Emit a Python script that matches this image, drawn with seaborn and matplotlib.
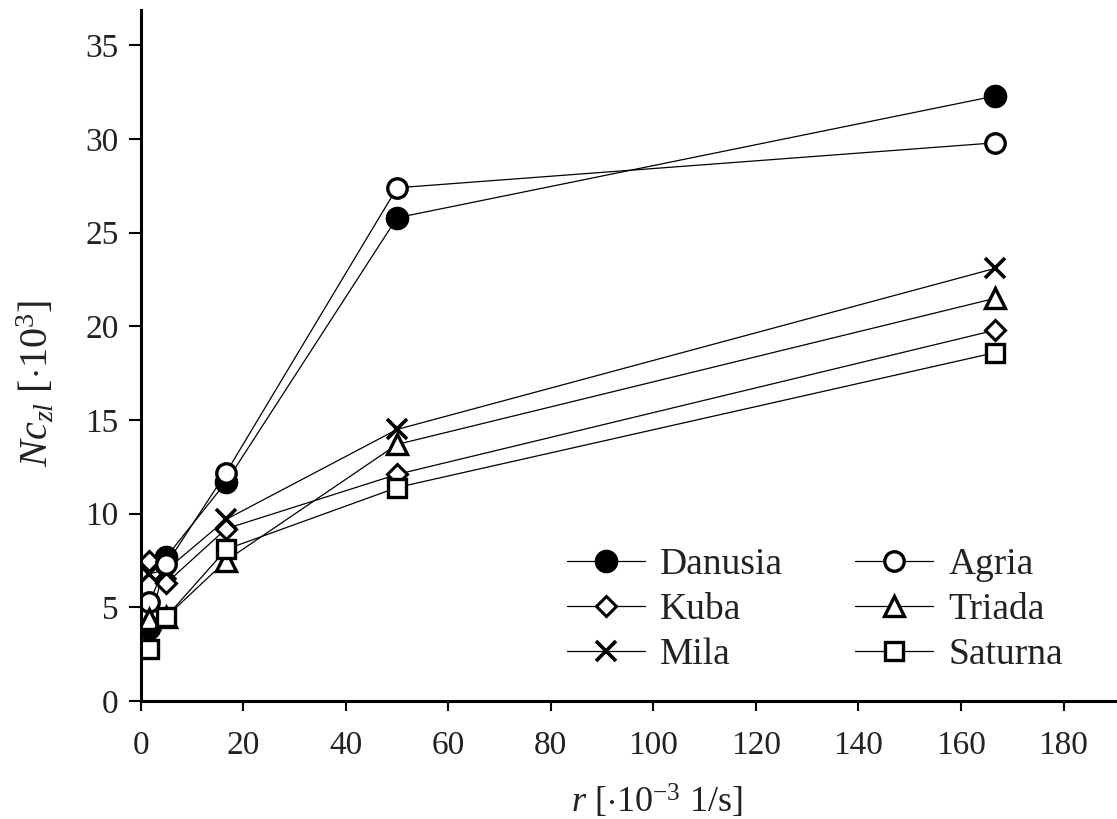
import matplotlib
matplotlib.use("Agg")
import matplotlib.pyplot as plt
import seaborn as sns
import pandas as pd

# Data
shear_rate = [1.67, 5.0, 16.67, 50.0, 166.67]
danusia = [3.9, 7.7, 11.7, 25.8, 32.3]
agria = [5.3, 7.3, 12.2, 27.4, 29.8]
kuba = [7.5, 6.3, 9.2, 12.1, 19.8]
triada = [4.4, 4.5, 7.5, 13.7, 21.5]
mila = [6.8, 7.0, 9.7, 14.5, 23.1]
saturna = [2.8, 4.5, 8.1, 11.4, 18.6]
x_ticks = [0, 20, 40, 60, 80, 100, 120, 140, 160, 180]
y_ticks = [0, 5, 10, 15, 20, 25, 30, 35]

series = {"Danusia": danusia, "Kuba": kuba, "Mila": mila,
          "Agria": agria, "Triada": triada, "Saturna": saturna}

rows = []
for name, vals in series.items():
    for xv, yv in zip(shear_rate, vals):
        rows.append({"r": xv, "Nc": yv, "variety": name})
df = pd.DataFrame(rows)

sns.set_theme(style="white")
plt.rcParams['font.family'] = ['Liberation Serif', 'DejaVu Serif']
plt.rcParams['mathtext.fontset'] = 'custom'
plt.rcParams['mathtext.rm'] = 'Liberation Serif'
plt.rcParams['mathtext.it'] = 'Liberation Serif:italic'

styles = {
    "Danusia": dict(marker="o", markerfacecolor="black", markersize=15, markeredgewidth=2.0),
    "Kuba": dict(marker="D", markerfacecolor="white", markersize=10, markeredgewidth=2.2),
    "Mila": dict(marker="x", markersize=14, markeredgewidth=2.6),
    "Agria": dict(marker="o", markerfacecolor="white", markersize=14, markeredgewidth=2.4),
    "Triada": dict(marker="^", markerfacecolor="white", markersize=15, markeredgewidth=2.4),
    "Saturna": dict(marker="s", markerfacecolor="white", markersize=13, markeredgewidth=2.4),
}

fig = plt.figure(figsize=(11.17, 8.19), dpi=100)
ax = fig.add_axes([0.126, 0.144, 0.872, 0.844])

for name in series:
    sub = df[df["variety"] == name]
    sns.lineplot(data=sub, x="r", y="Nc", ax=ax, color="black", linewidth=0.9,
                 markeredgecolor="black", label=name, estimator=None, sort=False,
                 **styles[name])

ax.set_xlim(0, 190)
ax.set_ylim(0, 36.9)
ax.set_xticks(x_ticks)
ax.set_yticks(y_ticks)
ax.tick_params(axis="both", direction="out", width=1.5, color="black",
               labelsize=24, labelcolor="#222222", bottom=True, left=True)
ax.tick_params(axis="y", length=9, pad=7)
ax.tick_params(axis="x", length=7, pad=14)
for s in ["top", "right"]:
    ax.spines[s].set_visible(False)
for s in ["left", "bottom"]:
    ax.spines[s].set_color("black")
    ax.spines[s].set_linewidth(2.2)

ax.set_xlabel(r"$r$ [$\cdot$10$^{-3}$ 1/s]", fontsize=26, color="#222222")
ax.set_ylabel(r"$Nc_{zl}$ [$\cdot$10$^{3}$]", fontsize=29, color="#222222")
ax.xaxis.set_label_coords(0.53, -0.118)
ax.yaxis.set_label_coords(-0.086, 0.46)

leg = ax.legend(loc="center", bbox_to_anchor=(0.692, 0.132), ncol=2, frameon=False,
                fontsize=27, handlelength=2.1, handletextpad=0.4, columnspacing=1.9,
                labelspacing=0.28)
for t in leg.get_texts():
    t.set_color("#222222")

fig.savefig("out.png", dpi=100)
